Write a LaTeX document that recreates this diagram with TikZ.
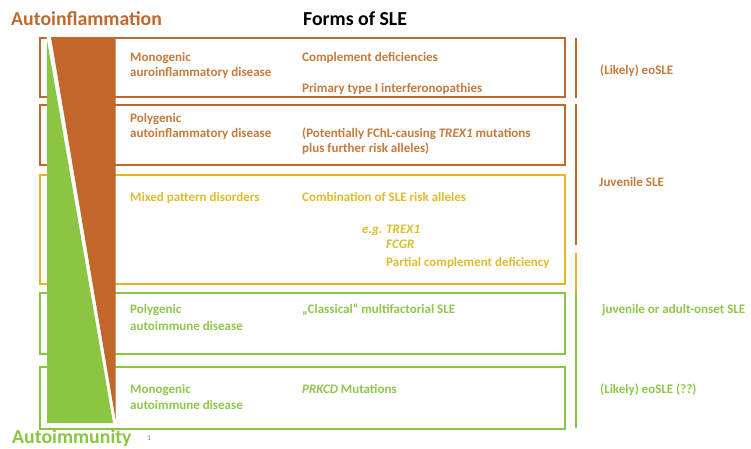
\documentclass[tikz,border=0pt]{standalone}
\usepackage{fontspec}
\setmainfont{Carlito}
\definecolor{cbrown}{HTML}{C0692F}
\definecolor{cbrownfill}{HTML}{C2662B}
\definecolor{cbrowntxt}{HTML}{C47B3E}
\definecolor{cyellow}{HTML}{E5B526}
\definecolor{cyellowtxt}{HTML}{DDBD2C}
\definecolor{cgreen}{HTML}{8CC541}
\definecolor{cgreentxt}{HTML}{8FC74B}
\begin{document}
\begin{tikzpicture}[x=1pt,y=-1pt,
  frame/.style={line width=2.4pt},
  vline/.style={line width=2.4pt},
  body/.style={anchor=base west, inner sep=0pt, font=\bfseries\fontsize{13}{15}\selectfont},
  browntxt/.style={body, text=cbrowntxt},
  yellowtxt/.style={body, text=cyellowtxt},
  greentxt/.style={body, text=cgreentxt},
  title/.style={anchor=base west, inner sep=0pt, font=\bfseries\fontsize{19.8}{22}\selectfont},
]
\useasboundingbox (0,0) rectangle (751,448);
\fill[white] (0,0) rectangle (751,448);
% boxes
\draw[frame, cbrown] (40,38) rectangle (565,97);
\draw[frame, cbrown] (40,105) rectangle (565,165);
\draw[frame, cyellow] (40,175) rectangle (565,284);
\draw[frame, cgreen] (40,293) rectangle (565,354);
\draw[frame, cgreen] (40,367) rectangle (565,429);
% wedges
\fill[white] (46.5,36.8) -- (51,36.8) -- (115.5,419) -- (113,424) -- cycle;
\fill[cgreen] (47,40) -- (47,423) -- (113,423) -- cycle;
\fill[cbrownfill] (51,37) -- (115.5,37) -- (115.5,419) -- cycle;
% right vertical lines
\draw[vline, cbrown] (576,38) -- (576,98);
\draw[vline, cbrown] (576,104) -- (576,245);
\draw[vline, cyellow] (576,253) -- (576,292);
\draw[vline, cgreen] (576,292) -- (576,428);
% titles
\node[title, text=cbrown] (tai) at (11,25) {Autoinflammation};
\node[title, text=black] (tforms) at (303,25) {Forms of SLE};
\node[title, text=cgreen] (taim) at (12,443) {Autoimmunity};
\node[anchor=base west, inner sep=0pt, font=\fontsize{7.5}{8}\selectfont, text=gray] (fn) at (147,440) {1};
% box 1
\node[browntxt] (b1a) at (130,61) {Monogenic};
\node[browntxt] (b1b) at (130,76) {auroinflammatory disease};
\node[browntxt] (b1c) at (302,61) {Complement deficiencies};
\node[browntxt] (b1d) at (302,92) {Primary type I interferonopathies};
\node[browntxt] (r1) at (600,74) {(Likely) eoSLE};
% box 2
\node[browntxt] (b2a) at (130,122) {Polygenic};
\node[browntxt] (b2b) at (130,137) {autoinflammatory disease};
\node[browntxt] (b2c) at (302,137) {(Potentially FChL-causing \textit{TREX1} mutations};
\node[browntxt] (b2d) at (302,152) {plus further risk alleles)};
\node[browntxt] (r2) at (599,186) {Juvenile SLE};
% box 3
\node[yellowtxt] (b3a) at (130,201) {Mixed pattern disorders};
\node[yellowtxt] (b3b) at (302,201) {Combination of SLE risk alleles};
\node[yellowtxt] (b3c) at (362,233) {\textit{e.g. TREX1}};
\node[yellowtxt] (b3d) at (386,248) {\textit{FCGR}};
\node[yellowtxt] (b3e) at (386,266) {Partial complement deficiency};
% box 4
\node[greentxt] (b4a) at (130,313) {Polygenic};
\node[greentxt] (b4b) at (130,330) {autoimmune disease};
\node[greentxt] (b4c) at (302,313) {„Classical“ multifactorial SLE};
\node[greentxt] (r4) at (602,313) {juvenile or adult-onset SLE};
% box 5
\node[greentxt] (b5a) at (130,393) {Monogenic};
\node[greentxt] (b5b) at (130,409) {autoimmune disease};
\node[greentxt] (b5c) at (302,393) {\textit{PRKCD} Mutations};
\node[greentxt] (r5) at (600,393) {(Likely) eoSLE (??)};
\end{tikzpicture}
\end{document}
